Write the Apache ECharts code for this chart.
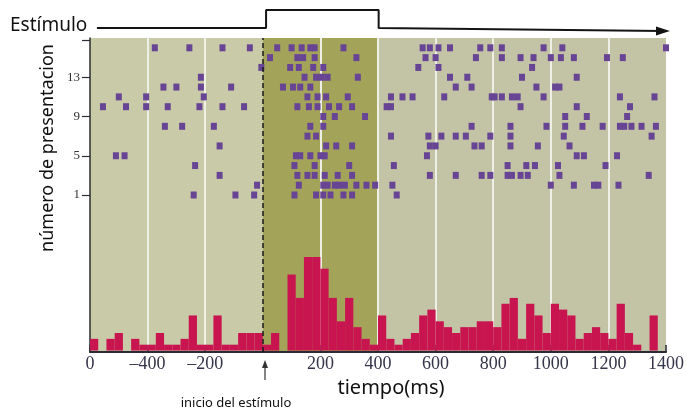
<!DOCTYPE html>
<html>
<head>
<meta charset="utf-8">
<script src="https://cdn.jsdelivr.net/npm/echarts@6/dist/echarts.min.js"></script>
<style>html,body{margin:0;padding:0;background:#ffffff}#chart{width:687px;height:410px}</style>
</head>
<body>
<div id="chart"></div>
<script>
// ---------------- DATA ----------------
// Spike times (ms) for each presentation (trial)
const trial16 = [-375,-255,-140,-45,50,100,135,165,180,280,555,580,610,650,755,790,830,975,1040,1400];
const trial15 = [25,120,140,180,325,565,600,740,830,895,940,1000,1035,1080,1195,1250];
const trial14 = [-5,95,125,175,210,540,610,935];
const trial13 = [-215,145,185,205,225,330,650,710,900,1090];
const trial12 = [-345,-300,-215,-110,70,105,130,165,670,725,950,1015,1030];
const trial11 = [-500,-405,-205,155,190,220,295,445,485,520,630,795,805,830,865,885,975,1240,1360];
const trial10 = [-555,-475,-405,-330,-220,-140,-65,120,160,190,230,265,310,430,445,895,1090,1275];
const trial9  = [210,250,355,1050,1125,1265];
const trial8  = [-340,-280,-170,165,210,725,860,985,1050,1110,1180,1240,1255,1280,1315,1365];
const trial7  = [155,185,445,575,620,670,705,790,860,1045,1350];
const trial6  = [-150,220,255,310,580,600,735,760,860,955,1065];
const trial5  = [-510,-480,115,130,165,200,215,570,1090,1115,1230];
const trial4  = [-235,110,180,300,455,850,915,945,1025,1190];
const trial3  = [-150,120,155,180,215,260,310,580,670,760,790,850,865,895,920,1030,1340];
const trial2  = [-20,125,210,225,250,265,285,325,360,390,450,1000,1080,1150,1165,1235];
const trial1  = [-240,-95,-30,110,185,210,235,280,310,465];
const trials = [trial1,trial2,trial3,trial4,trial5,trial6,trial7,trial8,trial9,trial10,trial11,trial12,trial13,trial14,trial15,trial16];

// Peri-stimulus histogram: spike counts per bin (70 bins from -600 to 1400 ms)
const histCounts = [2,0,2,3,0,2,1,1,3,1, 1,2,6,1,1,6,1,1,3,3, 3,1,3,0,13,9,16,16,14,9,
                    5,9,4,2,1,6,2,1,2,3, 6,7,5,4,3,4,4,5,5,4, 8,9,2,8,6,3,8,7,6,2,
                    3,4,3,2,8,3,1,0,6,0];
const timeMin = -600, timeMax = 1400;

// Tick labels
const xTickValues = [-600,-400,-200,200,400,600,800,1000,1200,1400];
const xTickTexts  = ['0','\u2013400','\u2013200','200','400','600','800','1000','1200','1400'];
const trialTickValues = [1,5,9,13];

// Stimulus waveform (time, level)
const stimTimes  = [-576, 10, 10, 400, 400, 1385];
const stimLevels = [0, 0, 1, 1, 0, -0.17];

// ---------------- BUILD ----------------
const binWidth = (timeMax - timeMin) / histCounts.length;
const binLabels = histCounts.map((_, i) => String(Math.round(timeMin + i * binWidth)));
const rasterData = [];
trials.forEach((arr, k) => arr.forEach(t => rasterData.push([t, k + 1])));
const stimData = stimTimes.map((t, i) => [t, stimLevels[i]]);
const arrowData = [[stimTimes[stimTimes.length - 1], stimLevels[stimLevels.length - 1]]];

const LEFT = 90, RIGHT = 687 - 667.3;
const bgL = '#c9caa7', bgS = '#a3a45a', bgR = '#c3c4a5';
const W = '#eef0e6', T = 'rgba(0,0,0,0)';
const axisCol = '#2b2b36';

const chart = echarts.init(document.getElementById('chart'), null, {renderer: 'canvas'});
chart.setOption({
  animation: false,
  backgroundColor: '#ffffff',
  grid: [
    {left: LEFT, right: RIGHT, top: 38, height: 314},
    {left: LEFT, right: RIGHT, top: 10, height: 22.5}
  ],
  xAxis: [
    {
      type: 'value', gridIndex: 0, min: timeMin, max: timeMax, interval: 200,
      axisLine: {show: true, onZero: false, lineStyle: {color: axisCol, width: 2}},
      axisTick: {show: true, inside: true, length: 7, lineStyle: {color: axisCol, width: 1.5}},
      axisLabel: {
        customValues: xTickValues,
        formatter: v => xTickTexts[xTickValues.indexOf(v)] || '',
        fontFamily: '"Liberation Serif", serif', fontSize: 18, color: '#34344a', margin: 3
      },
      splitArea: {show: true, areaStyle: {color: [bgL, bgL, bgL, bgS, bgS, bgR, bgR, bgR, bgR, bgR]}},
      splitLine: {show: true, lineStyle: {width: 2, color: [T, W, W, T, W, W, W, W, W, W, T]}}
    },
    {type: 'category', gridIndex: 0, data: binLabels, show: false, boundaryGap: true},
    {type: 'value', gridIndex: 1, min: timeMin, max: timeMax, show: false}
  ],
  yAxis: [
    {
      type: 'value', gridIndex: 0, min: -15, max: 17,
      axisLine: {show: true, onZero: false, lineStyle: {color: axisCol, width: 1.5}},
      axisTick: {show: true, customValues: [1, 5, 9, 13, 16.8], length: 8, lineStyle: {color: axisCol, width: 1.2}},
      axisLabel: {customValues: trialTickValues, fontFamily: '"Liberation Serif", serif', fontSize: 13, color: '#333', margin: 10},
      splitLine: {show: false}
    },
    {type: 'value', gridIndex: 0, min: -0.25, max: 53.45, show: false, splitLine: {show: false}},
    {type: 'value', gridIndex: 1, min: -0.25, max: 1, show: false, splitLine: {show: false}}
  ],
  series: [
    {
      name: 'histograma', type: 'bar', xAxisIndex: 1, yAxisIndex: 1,
      data: histCounts, barCategoryGap: '0%', barGap: '0%', z: 2,
      itemStyle: {color: '#c8154f', opacity: 1}
    },
    {
      name: 'raster', type: 'scatter', xAxisIndex: 0, yAxisIndex: 0,
      data: rasterData, symbol: 'rect', symbolSize: [6, 7], z: 3,
      itemStyle: {color: '#674594', opacity: 1},
      markLine: {
        silent: true, symbol: ['none', 'none'], label: {show: false},
        lineStyle: {color: '#1a1a1a', type: [5, 3], width: 1.5},
        data: [{xAxis: 0}]
      }
    },
    {
      name: 'estimulo', type: 'line', xAxisIndex: 2, yAxisIndex: 2,
      data: stimData, symbol: 'none', lineStyle: {color: '#141414', width: 2}
    },
    {
      name: 'flecha', type: 'scatter', xAxisIndex: 2, yAxisIndex: 2,
      data: arrowData, symbol: 'triangle', symbolSize: [9, 14], symbolRotate: -90,
      itemStyle: {color: '#141414', opacity: 1}
    }
  ],
  graphic: [
    {type: 'text', x: 10, y: 26, style: {text: 'Estímulo', fill: '#111', font: '19px "Noto Sans"', align: 'left', verticalAlign: 'middle'}},
    {type: 'text', x: 48, y: 148, rotation: Math.PI / 2, style: {text: 'número de presentacion', fill: '#111', font: '18px "Noto Sans"', align: 'center', verticalAlign: 'middle'}},
    {type: 'text', x: 391, y: 388, style: {text: 'tiempo(ms)', fill: '#111', font: '20px "Noto Sans"', align: 'center', verticalAlign: 'middle'}},
    {type: 'text', x: 236, y: 403, style: {text: 'inicio del estímulo', fill: '#111', font: '13px "Noto Sans"', align: 'center', verticalAlign: 'middle'}},
    {type: 'line', shape: {x1: 265, y1: 380, x2: 265, y2: 366}, style: {stroke: '#333', lineWidth: 1.2}},
    {type: 'polygon', shape: {points: [[262, 368], [268, 368], [265, 360]]}, style: {fill: '#333'}}
  ]
});
</script>
</body>
</html>
